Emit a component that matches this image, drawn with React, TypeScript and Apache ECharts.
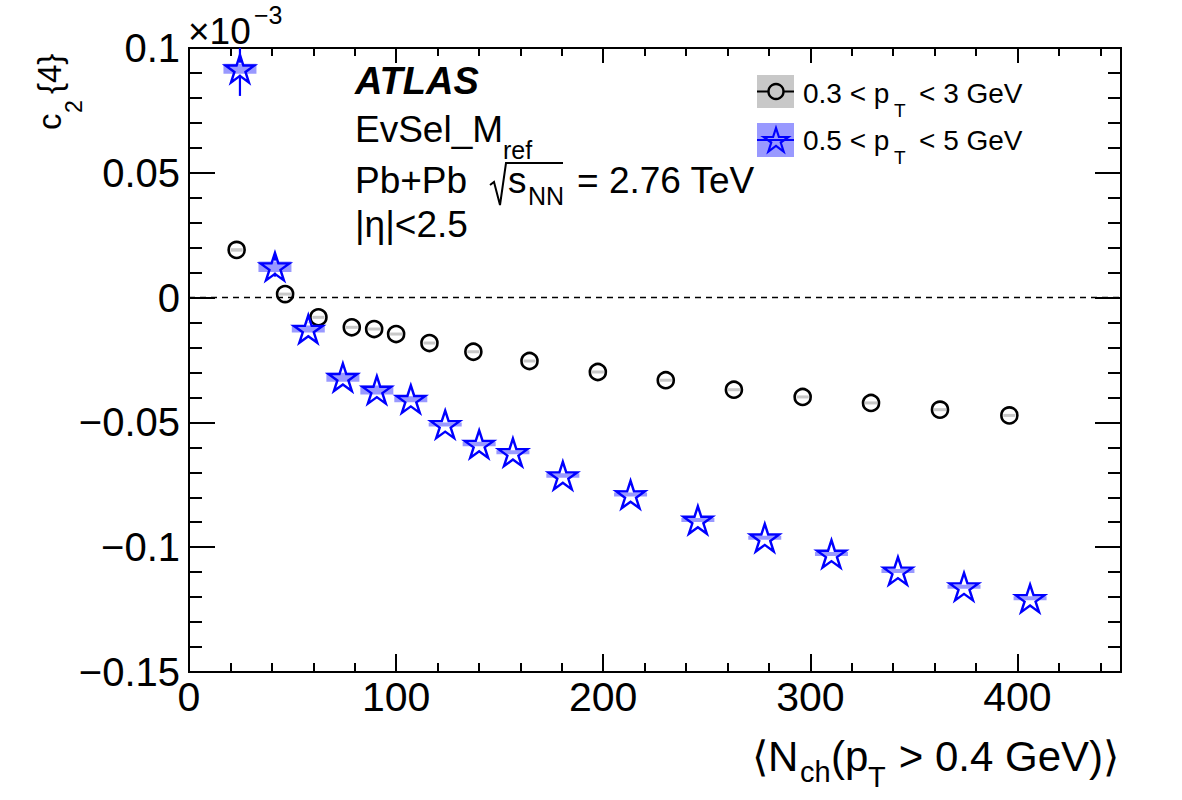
import { useEffect, useRef } from 'react';
import * as echarts from 'echarts';

// c2{4} (in units of 1e-3) versus <Nch(pT > 0.4 GeV)>

// 0.3 < pT < 3 GeV
const nchLow = [23.0, 46.4, 62.5, 78.6, 89.4, 100.0, 116.1, 137.3, 164.4, 197.4, 230.2, 263.1, 296.3, 329.3, 362.6, 396.1];
const c24Low = [0.0191, 0.0014, -0.0079, -0.0119, -0.0126, -0.0146, -0.0182, -0.0217, -0.0254, -0.0298, -0.0331, -0.0369, -0.0398, -0.0422, -0.0449, -0.0472];
const sysLow = [0.0007, 0.0006, 0.0006, 0.0006, 0.0006, 0.0006, 0.0006, 0.0006, 0.0006, 0.0006, 0.0006, 0.0006, 0.0006, 0.0006, 0.0006, 0.0006];

// 0.5 < pT < 5 GeV
const nchHigh = [24.6, 41.5, 57.6, 74.3, 90.7, 107.1, 123.7, 140.1, 156.4, 180.5, 213.2, 245.7, 278.0, 310.2, 342.3, 374.2, 406.1];
const c24High = [0.0917, 0.0124, -0.0126, -0.0319, -0.0370, -0.0407, -0.0508, -0.0587, -0.0620, -0.0713, -0.0789, -0.0891, -0.0962, -0.1027, -0.1095, -0.1158, -0.1205];
const statHigh = [0.0109, 0.0040, 0.0025, 0.0020, 0.0018, 0.0016, 0.0015, 0.0014, 0.0014, 0.0013, 0.0013, 0.0013, 0.0013, 0.0013, 0.0013, 0.0013, 0.0013];
const sysHigh = [0.0020, 0.0021, 0.0014, 0.0018, 0.0018, 0.0012, 0.0008, 0.0009, 0.0008, 0.0009, 0.0008, 0.0008, 0.0008, 0.0008, 0.0008, 0.0008, 0.0008];

const legendLow = ['0.3 < p', 'T', '< 3 GeV'];
const legendHigh = ['0.5 < p', 'T', '< 5 GeV'];

// pieces of the rotated y-axis title: text, font size, grid it hangs on, distance below the frame top
const yTitleParts: [string, number, number, number][] = [
  ['c', 33, 1, 82],
  ['2', 23, 2, 65],
  ['{4}', 33, 1, 46],
];

const FONT = '"Liberation Sans", Arial, Helvetica, sans-serif';
const BLUE = '#0000ff';
const BLUE_BAND = 'rgba(0,0,255,0.4)';
const GRAY_BAND = '#c8c8c8';
const STAR_PATH =
  'path://M50 0 L61.17 34.63 L97.55 34.55 L68.07 55.87 L79.39 90.45 L50 69 L20.61 90.45 L31.93 55.87 L2.45 34.55 L38.83 34.63 Z';

const starPoints = (cx: number, cy: number, R: number) =>
  Array.from({ length: 10 }, (_, k) => {
    const r = k % 2 ? R * 0.382 : R;
    const a = -Math.PI / 2 + (k * Math.PI) / 5;
    return [cx + r * Math.cos(a), cy + r * Math.sin(a)];
  });

const txt = (text: string, x: number, y: number, size: number, opts: any = {}) => ({
  type: 'text',
  x,
  y,
  silent: true,
  style: {
    text,
    fill: '#000',
    font: `${opts.italic ? 'italic ' : ''}${opts.bold ? 'bold ' : ''}${size}px ${FONT}`,
    align: opts.align || 'left',
    textAlign: opts.align || 'left',
    verticalAlign: 'middle',
    textVerticalAlign: 'middle',
  },
});

const frameLine = { show: true, onZero: false, lineStyle: { color: '#000', width: 2 } };
const tickStyle = { color: '#000', width: 2 };

const xBase = {
  type: 'value',
  min: 0,
  max: 450,
  silent: true,
  axisLine: frameLine,
  splitLine: { show: false },
};

const yBase = {
  type: 'value',
  min: -0.15,
  max: 0.1,
  interval: 0.05,
  silent: true,
  axisLine: frameLine,
  splitLine: { show: false },
  axisTick: { inside: true, length: 26, lineStyle: tickStyle },
  minorTick: { show: true, splitNumber: 5, length: 13, lineStyle: tickStyle },
};

// narrow grids whose left edge is the centre line of the rotated title pieces
const titleGrid = (left: number) => ({
  left,
  width: 4,
  top: 48,
  height: 624,
  containLabel: false,
  outerBoundsMode: 'none',
});

const hiddenX = (gridIndex: number) => ({
  type: 'value',
  gridIndex,
  min: 0,
  max: 1,
  show: false,
});

const yTitleAxes = yTitleParts.map(([text, size, gridIndex, down]) => ({
  type: 'value',
  gridIndex,
  min: -0.15,
  max: 0.1,
  position: 'left',
  silent: true,
  axisLine: { show: false },
  axisTick: { show: false },
  axisLabel: { show: false },
  splitLine: { show: false },
  name: text,
  nameLocation: 'end',
  nameGap: -down,
  nameRotate: 90,
  nameTextStyle: {
    fontSize: size,
    fontFamily: FONT,
    color: '#000',
    align: 'left',
    verticalAlign: 'middle',
    padding: 0,
  },
}));

const fmtY = (v: number) => {
  const r = Math.round(v * 1000) / 1000;
  return r < 0 ? '\u2212' + String(-r) : String(Math.abs(r));
};

const bandRenderer = (width: number, fill: string) => (params: any, api: any) => {
  const c = api.coord([api.value(0), api.value(1)]);
  const h = api.size([0, api.value(2)])[1];
  return {
    type: 'rect',
    shape: { x: c[0] - width / 2, y: c[1] - h, width, height: 2 * h },
    style: { fill },
  };
};

const errorRenderer = (gap: number) => (params: any, api: any) => {
  const x = api.value(0);
  const y = api.value(1);
  const e = api.value(2);
  const c = api.coord([x, y]);
  const top = api.coord([x, y + e]);
  const bot = api.coord([x, y - e]);
  const children: any[] = [];
  if (c[1] - top[1] > gap) {
    children.push({ type: 'line', shape: { x1: c[0], y1: c[1] - gap, x2: c[0], y2: top[1] }, style: { stroke: BLUE, lineWidth: 2.2 } });
  }
  if (bot[1] - c[1] > gap) {
    children.push({ type: 'line', shape: { x1: c[0], y1: c[1] + gap, x2: c[0], y2: bot[1] }, style: { stroke: BLUE, lineWidth: 2.2 } });
  }
  return { type: 'group', children };
};

const option: any = {
  animation: false,
  backgroundColor: '#fff',
  grid: [
    { left: 189, right: 61, top: 48, bottom: 128, containLabel: false, outerBoundsMode: 'none' },
    titleGrid(49),
    titleGrid(74),
  ],
  xAxis: [
    {
      ...xBase,
      position: 'bottom',
      interval: 100,
      axisTick: { inside: true, length: 18, lineStyle: tickStyle },
      axisLabel: {
        fontSize: 41,
        color: '#000',
        fontFamily: FONT,
        margin: 4,
        formatter: (v: number) => (v % 100 === 0 ? String(v) : ''),
      },
    },
    {
      ...xBase,
      position: 'bottom',
      interval: 20,
      axisTick: { inside: true, length: 9, lineStyle: tickStyle },
      axisLabel: { show: false },
    },
    {
      ...xBase,
      position: 'top',
      interval: 100,
      axisTick: { inside: true, length: 15, lineStyle: tickStyle },
      axisLabel: { show: false },
    },
    {
      ...xBase,
      position: 'top',
      interval: 20,
      axisTick: { inside: true, length: 8, lineStyle: tickStyle },
      axisLabel: { show: false },
    },
    hiddenX(1),
    hiddenX(2),
  ],
  yAxis: [
    {
      ...yBase,
      position: 'left',
      axisLabel: { fontSize: 40, color: '#000', fontFamily: FONT, margin: 9, formatter: fmtY },
    },
    {
      ...yBase,
      position: 'right',
      axisLabel: { show: false },
    },
    ...yTitleAxes,
  ],
  series: [
    {
      type: 'custom',
      name: 'sysLow',
      clip: true,
      z: 1,
      silent: true,
      renderItem: bandRenderer(12, GRAY_BAND),
      data: nchLow.map((x, i) => [x, c24Low[i], sysLow[i]]),
    },
    {
      type: 'custom',
      name: 'sysHigh',
      clip: true,
      z: 1,
      silent: true,
      renderItem: bandRenderer(33, BLUE_BAND),
      data: nchHigh.map((x, i) => [x, c24High[i], sysHigh[i]]),
    },
    {
      type: 'custom',
      name: 'statHigh',
      clip: true,
      z: 2,
      silent: true,
      renderItem: errorRenderer(6),
      data: nchHigh.map((x, i) => [x, c24High[i], statHigh[i]]),
    },
    {
      type: 'scatter',
      name: '0.3 < pT < 3 GeV',
      z: 3,
      silent: true,
      symbol: 'circle',
      symbolSize: 16,
      itemStyle: { color: 'rgba(0,0,0,0)', borderColor: '#000', borderWidth: 2.6, opacity: 1 },
      data: nchLow.map((x, i) => [x, c24Low[i]]),
      markLine: {
        silent: true,
        symbol: ['none', 'none'],
        label: { show: false },
        lineStyle: { color: '#000', width: 1.3, type: [6, 5], opacity: 1 },
        data: [{ yAxis: 0 }],
      },
    },
    {
      type: 'scatter',
      name: '0.5 < pT < 5 GeV',
      z: 4,
      silent: true,
      symbol: STAR_PATH,
      symbolSize: [29, 27.5],
      itemStyle: { color: 'rgba(0,0,0,0)', borderColor: BLUE, borderWidth: 2.4, opacity: 1 },
      data: nchHigh.map((x, i) => [x, c24High[i]]),
    },
  ],
  graphic: [
    // exponent of the y axis
    txt('\u00d710', 188, 31, 37),
    txt('\u22123', 254, 15, 25),
    // x-axis title
    txt('\u27e8N', 752, 756, 42),
    txt('ch', 800, 772, 29),
    txt('(p', 831, 756, 42),
    txt('T', 868, 777, 29),
    txt('> 0.4 GeV)\u27e9', 1119, 756, 42, { align: 'right' }),
    // labels
    txt('ATLAS', 355, 81, 38, { bold: true, italic: true }),
    txt('EvSel_M', 355, 129, 37),
    txt('ref', 503, 149.5, 25),
    txt('Pb+Pb', 355, 180, 37),
    {
      type: 'polyline',
      silent: true,
      shape: { points: [[490, 185], [494, 182], [500, 205], [506, 163], [563, 163]] },
      style: { stroke: '#000', lineWidth: 2, fill: 'none' },
    },
    txt('s', 508, 180, 37),
    txt('NN', 528, 196, 25),
    txt('= 2.76 TeV', 577, 180, 37),
    txt('|\u03b7|<2.5', 355, 224, 37),
    // legend
    { type: 'rect', silent: true, shape: { x: 757, y: 75, width: 37, height: 33 }, style: { fill: GRAY_BAND } },
    { type: 'line', silent: true, shape: { x1: 757, y1: 91.5, x2: 794, y2: 91.5 }, style: { stroke: '#000', lineWidth: 2 } },
    { type: 'circle', silent: true, shape: { cx: 776, cy: 91.5, r: 7.5 }, style: { stroke: '#000', lineWidth: 2.4, fill: GRAY_BAND } },
    txt(legendLow[0], 803, 93.5, 28),
    txt(legendLow[1], 894, 110.5, 19),
    txt(legendLow[2], 919, 93.5, 28),
    { type: 'rect', silent: true, shape: { x: 757, y: 123, width: 37, height: 34 }, style: { fill: BLUE_BAND } },
    { type: 'line', silent: true, shape: { x1: 757, y1: 140, x2: 794, y2: 140 }, style: { stroke: BLUE, lineWidth: 2 } },
    {
      type: 'polygon',
      silent: true,
      shape: { points: starPoints(776, 141, 13) },
      style: { stroke: BLUE, lineWidth: 2.2, fill: 'rgba(0,0,0,0)' },
    },
    txt(legendHigh[0], 803, 140.2, 28),
    txt(legendHigh[1], 894, 157.4, 19),
    txt(legendHigh[2], 919, 140.2, 28),
  ],
};

export default function App() {
  const ref = useRef<HTMLDivElement>(null);
  useEffect(() => {
    if (!ref.current) return;
    const chart = echarts.init(ref.current, null, { renderer: 'svg', width: 1182, height: 800 });
    chart.setOption(option);
    return () => chart.dispose();
  }, []);
  return (
    <div
      ref={ref}
      style={{ position: 'fixed', left: 0, top: 0, width: 1182, height: 800, background: '#fff' }}
    />
  );
}
